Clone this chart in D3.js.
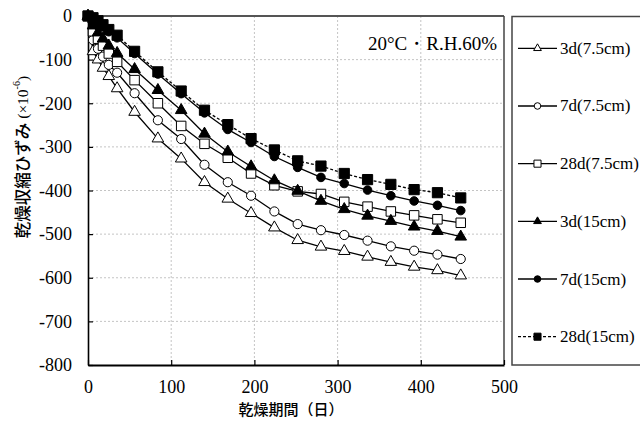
<!DOCTYPE html>
<html><head><meta charset="utf-8">
<script src="https://cdn.jsdelivr.net/npm/d3@7"></script>
<style>
html,body{margin:0;padding:0;background:#fff;}
svg{display:block;}
</style></head>
<body>
<svg id="chart" width="640" height="421"></svg>
<script>
// ---- data ----
const days = [0, 6, 12, 18, 25, 35, 56, 84, 112, 140, 168, 196, 224, 252, 280, 308, 336, 364, 392, 420, 448];
const s3d75  = [0, -81, -100, -119, -138, -166, -220, -281, -327, -381, -419, -452, -485, -514, -529, -539, -552, -564, -575, -583, -595];
const s7d75  = [0, -55, -75, -93, -112, -130, -177, -239, -282, -341, -381, -412, -448, -477, -491, -502, -515, -528, -538, -547, -557];
const s28d75 = [0, -35, -52, -68, -86, -105, -147, -200, -252, -293, -325, -361, -388, -402, -408, -426, -437, -448, -457, -466, -474];
const s3d15  = [0, -22, -38, -52, -68, -85, -122, -170, -216, -270, -311, -345, -377, -401, -424, -443, -458, -470, -483, -493, -506];
const s7d15  = [0, -8, -16, -25, -36, -50, -86, -133, -178, -222, -260, -290, -322, -347, -370, -384, -399, -412, -424, -434, -446];
const s28d15 = [0, -4, -11, -20, -31, -44, -81, -128, -172, -216, -249, -281, -307, -332, -344, -361, -375, -386, -398, -405, -417];
const seriesNames = ["3d(7.5cm)", "7d(7.5cm)", "28d(7.5cm)", "3d(15cm)", "7d(15cm)", "28d(15cm)"];
const xTicks = [0, 100, 200, 300, 400, 500];
const xTickLabels = ["0", "100", "200", "300", "400", "500"];
const yTicks = [0, -100, -200, -300, -400, -500, -600, -700, -800];
const yTickLabels = ["0", "-100", "-200", "-300", "-400", "-500", "-600", "-700", "-800"];
const xTitle = "乾燥期間（日）";
const yTitle = "乾燥収縮ひずみ";
const note = "20°C・R.H.60%";

(function () {
// ---- styles (not data) ----
const styles = [
  {shape: d3.symbolTriangle, size: 58, fill: "#fff", dash: null, lsize: 26},
  {shape: d3.symbolCircle,   size: 66, fill: "#fff", dash: null, lsize: 34},
  {shape: d3.symbolSquare,   size: 90, fill: "#fff", dash: null, lsize: 50},
  {shape: d3.symbolTriangle, size: 58, fill: "#000", dash: null, lsize: 26},
  {shape: d3.symbolCircle,   size: 58, fill: "#000", dash: null, lsize: 34},
  {shape: d3.symbolSquare,   size: 104, fill: "#000", dash: "3,2", lsize: 50}
];
const allValues = [s3d75, s7d75, s28d75, s3d15, s7d15, s28d15];
const series = seriesNames.map((name, i) => ({
  name, style: styles[i],
  points: days.map((d, j) => ({x: d, y: allValues[i][j]}))
}));

const svg = d3.select("#chart");
const pL = 88, pR = 504, pT = 16, pB = 365;
const x = d3.scaleLinear().domain([0, 500]).range([pL, pR]);
const y = d3.scaleLinear().domain([-800, 0]).range([pB, pT]);
const serif = "'Liberation Serif','Times New Roman',serif";
const jp = "'Noto Sans CJK JP','Noto Sans',sans-serif";

// gridlines
const grid = svg.append("g");
grid.selectAll("line.gx").data(xTicks.filter(t => t > 0 && t < 500)).join("line")
  .attr("x1", d => x(d)).attr("x2", d => x(d)).attr("y1", pT).attr("y2", pB)
  .attr("stroke", "#c4c4c4").attr("stroke-width", 1).attr("stroke-dasharray", "2,2");
grid.selectAll("line.gy").data(yTicks.filter(t => t < 0 && t > -800)).join("line")
  .attr("x1", pL).attr("x2", pR).attr("y1", d => y(d)).attr("y2", d => y(d))
  .attr("stroke", "#c4c4c4").attr("stroke-width", 1).attr("stroke-dasharray", "2,2");

// frame (top & right)
svg.append("line").attr("x1", pL).attr("x2", pR).attr("y1", pT).attr("y2", pT)
  .attr("stroke", "#555").attr("stroke-width", 2);
svg.append("line").attr("x1", pR).attr("x2", pR).attr("y1", pT).attr("y2", pB)
  .attr("stroke", "#444").attr("stroke-width", 1.5);

// axes
const yAxis = d3.axisLeft(y).tickValues(yTicks)
  .tickFormat((d, i) => yTickLabels[i]).tickSizeInner(-5).tickSizeOuter(0).tickPadding(16);
const gy = svg.append("g").attr("transform", `translate(${pL},0)`).call(yAxis)
  .attr("font-family", null).attr("font-size", null);
gy.select(".domain").attr("stroke", "#000").attr("stroke-width", 1.6);
gy.selectAll(".tick line").attr("stroke", "#000").attr("stroke-width", 1.2);
gy.selectAll(".tick text").style("font-family", serif).style("font-size", "18px").attr("fill", "#000");

const xAxis = d3.axisBottom(x).tickValues(xTicks)
  .tickFormat((d, i) => xTickLabels[i]).tickSizeInner(-5).tickSizeOuter(0).tickPadding(15);
const gx = svg.append("g").attr("transform", `translate(0,${pB})`).call(xAxis)
  .attr("font-family", null).attr("font-size", null);
gx.select(".domain").attr("stroke", "#000").attr("stroke-width", 2);
gx.selectAll(".tick line").attr("stroke", "#000").attr("stroke-width", 1.2);
gx.selectAll(".tick text").style("font-family", serif).style("font-size", "18px").attr("fill", "#000");

// series
const line = d3.line().x(d => x(d.x)).y(d => y(d.y));
series.forEach(s => {
  const g = svg.append("g");
  g.append("path").datum(s.points).attr("d", line)
    .attr("fill", "none").attr("stroke", "#000").attr("stroke-width", 1.3)
    .attr("stroke-dasharray", s.style.dash);
  g.selectAll("path.m").data(s.points).join("path").attr("class", "m")
    .attr("transform", d => `translate(${x(d.x)},${y(d.y)})`)
    .attr("d", d3.symbol().type(s.style.shape).size(s.style.size))
    .attr("fill", s.style.fill).attr("stroke", "#000").attr("stroke-width", 1);
});

// annotation
svg.append("text").attr("x", 497).attr("y", 43).attr("dominant-baseline", "central")
  .attr("text-anchor", "end").style("font-family", serif).style("font-size", "19px").attr("fill", "#000")
  .text(note);

// legend
svg.append("rect").attr("x", 512).attr("y", 16.5).attr("width", 140).attr("height", 348.5)
  .attr("fill", "none").attr("stroke", "#444").attr("stroke-width", 1.5);
const legY = d3.scalePoint().domain(seriesNames).range([48.3, 336.7]);
series.forEach(s => {
  const ly = legY(s.name);
  const g = svg.append("g");
  g.append("line").attr("x1", 518).attr("x2", 557).attr("y1", ly).attr("y2", ly)
    .attr("stroke", "#000").attr("stroke-width", 1.3).attr("stroke-dasharray", s.style.dash);
  g.append("path").attr("transform", `translate(537.5,${ly})`)
    .attr("d", d3.symbol().type(s.style.shape).size(s.style.lsize))
    .attr("fill", s.style.fill).attr("stroke", "#000").attr("stroke-width", 1);
  g.append("text").attr("x", 560).attr("y", ly).attr("dominant-baseline", "central")
    .style("font-family", serif).style("font-size", "17px").attr("fill", "#000").text(s.name);
});

// axis titles
svg.append("text").attr("x", 291).attr("y", 408).attr("dominant-baseline", "central")
  .attr("text-anchor", "middle").style("font-family", jp).style("font-size", "15px")
  .attr("font-weight", 500).attr("fill", "#000").text(xTitle);

const yt = svg.append("text").attr("transform", "translate(22,157) rotate(-90)")
  .attr("text-anchor", "middle").attr("dominant-baseline", "central").attr("fill", "#000");
yt.append("tspan").style("font-family", jp).style("font-size", "16.5px").attr("font-weight", 500).text(yTitle);
yt.append("tspan").style("font-family", serif).style("font-size", "15.5px").text(" (×10");
yt.append("tspan").style("font-family", serif).style("font-size", "10px").attr("dy", -6).text("-6");
yt.append("tspan").style("font-family", serif).style("font-size", "15.5px").attr("dy", 6).text(")");
})();
</script>
</body></html>
